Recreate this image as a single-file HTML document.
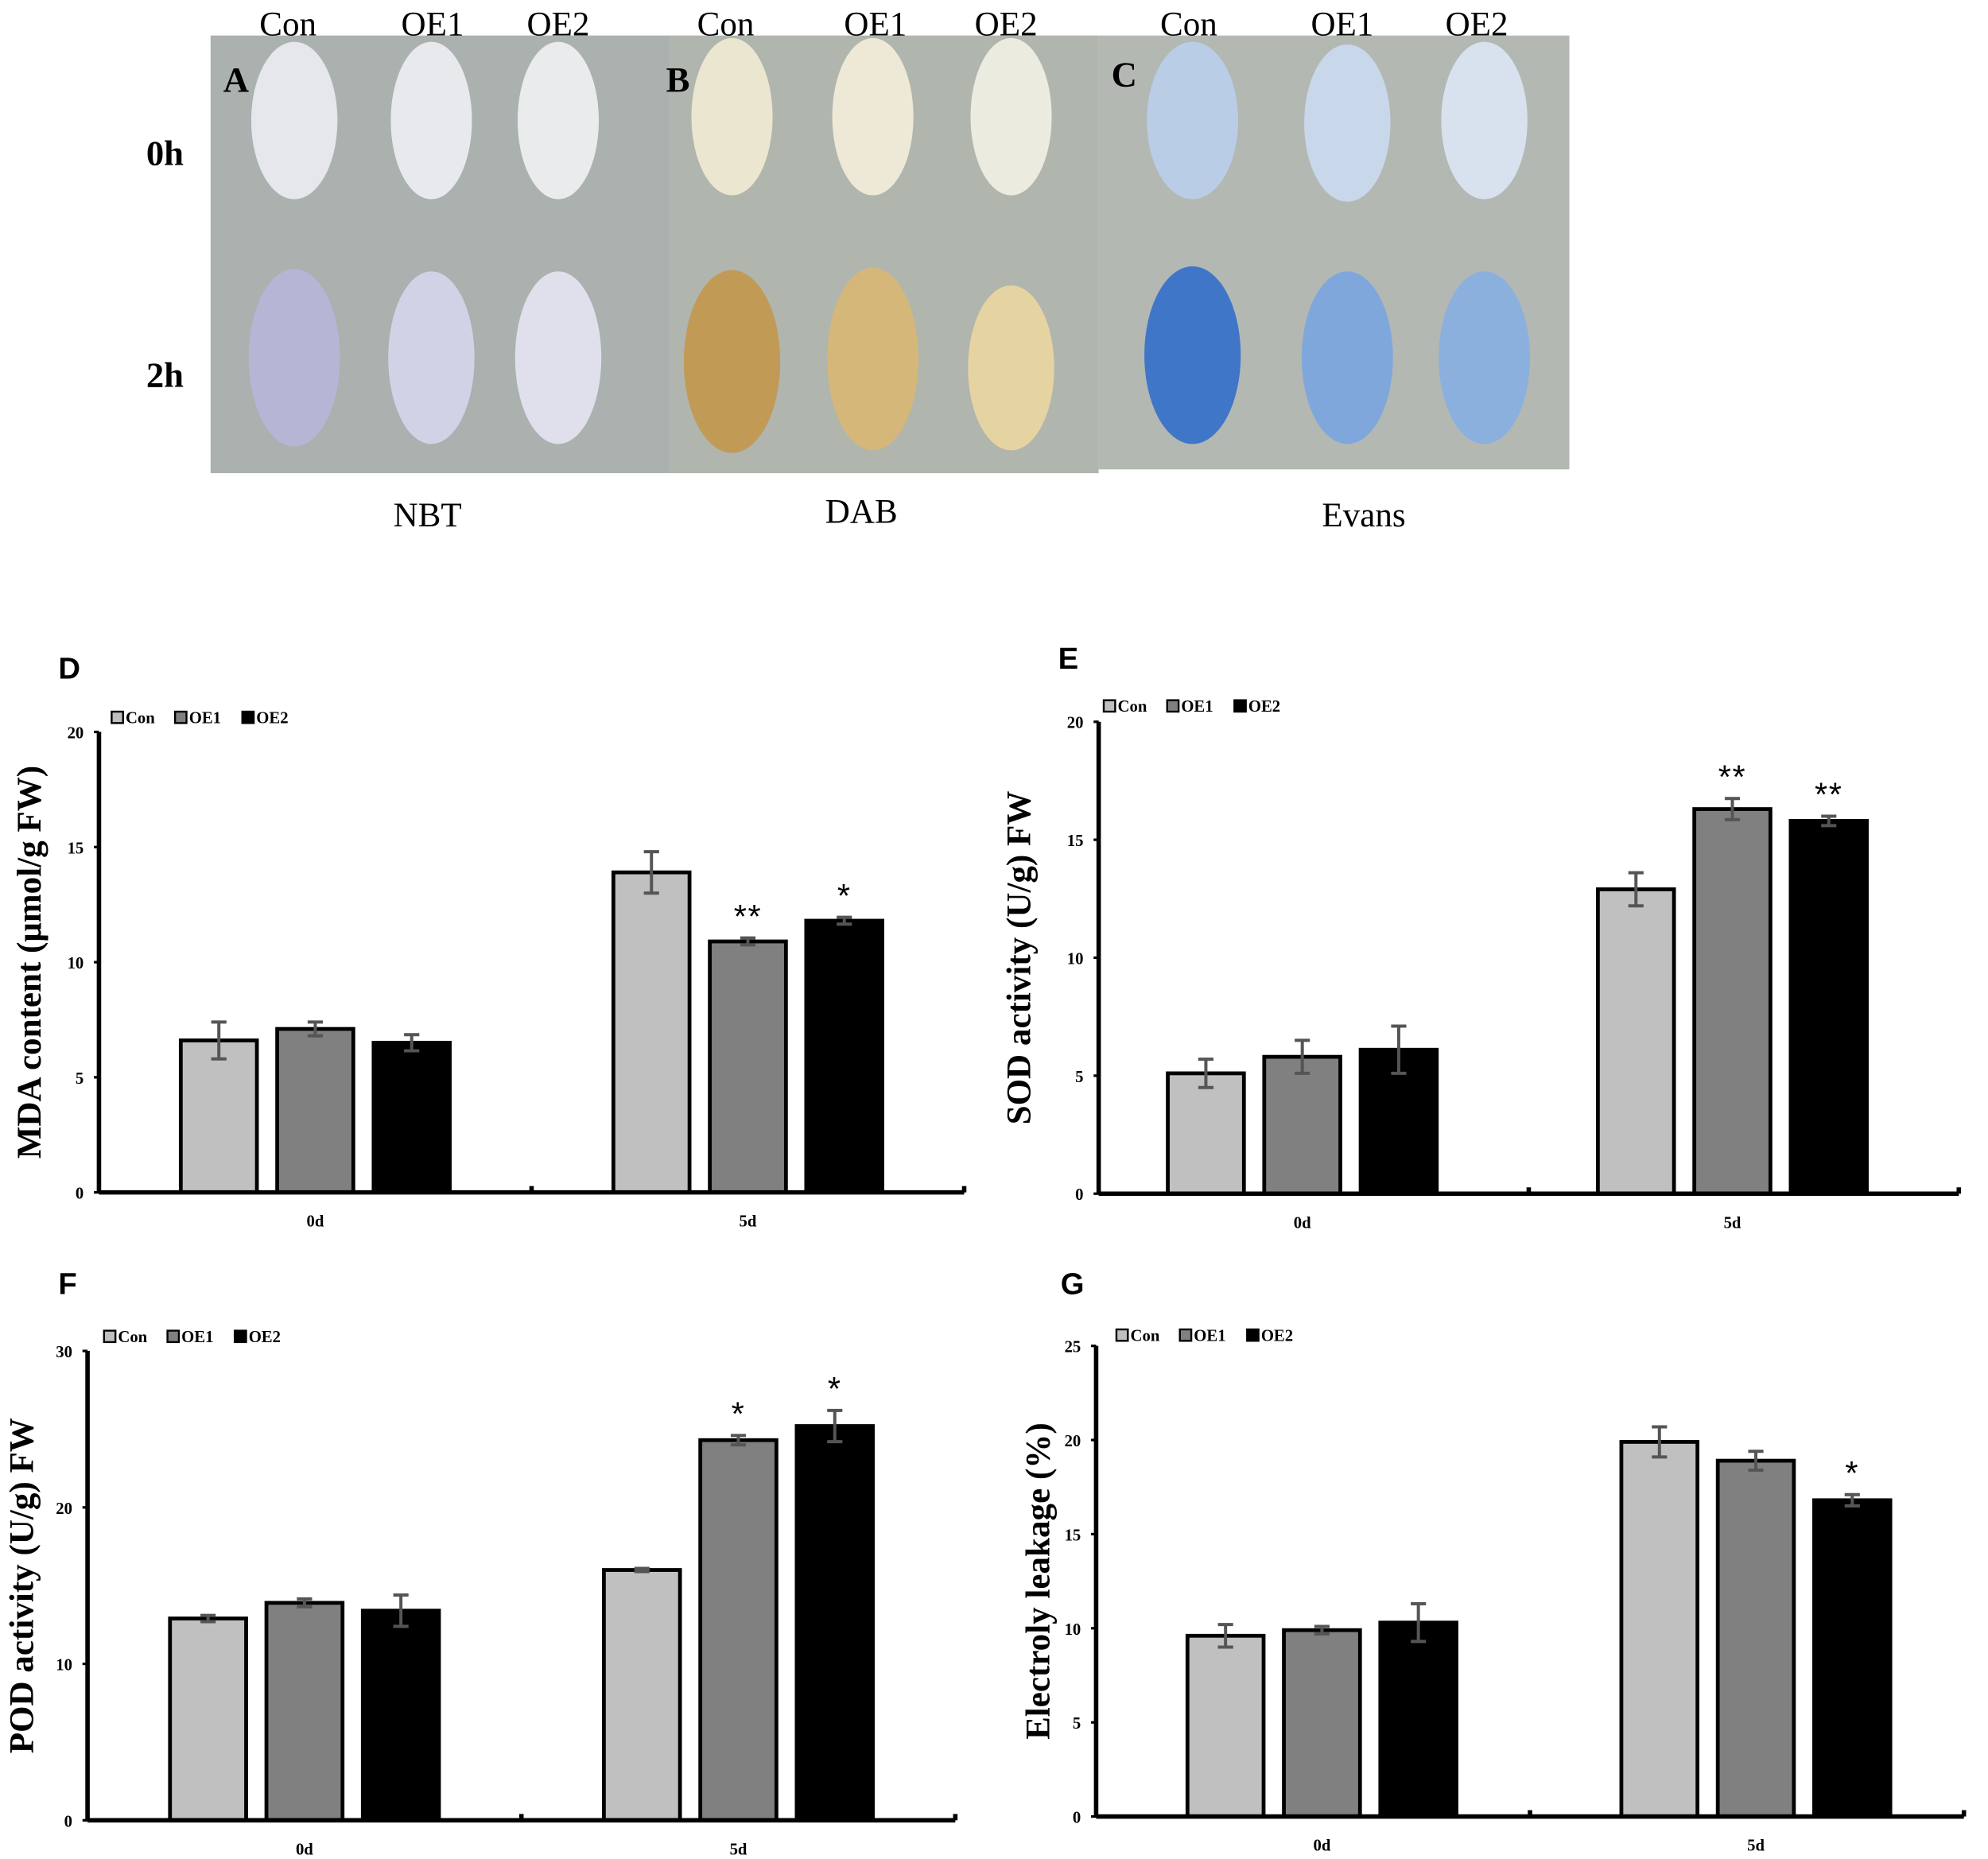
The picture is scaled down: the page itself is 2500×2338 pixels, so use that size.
<!DOCTYPE html>
<html><head><meta charset="utf-8"><style>
html,body{margin:0;padding:0;background:#fff;}
svg{display:block;}
</style></head><body>
<svg id="fig" width="2500" height="2338" viewBox="0 0 1567 1465.5" preserveAspectRatio="none" xmlns="http://www.w3.org/2000/svg" font-family="Liberation Serif, serif">
<g id="photo">
  <rect x="166" y="28" width="362" height="345" fill="#aab1ae"/>
  <rect x="528" y="28" width="338" height="345" fill="#b0b5ae"/>
  <rect x="866" y="28" width="371" height="342" fill="#b3b8b3"/>
  <g>
    <ellipse cx="232" cy="95" rx="34" ry="62" fill="#e6e7ec"/>
    <ellipse cx="340" cy="95" rx="32" ry="62" fill="#e8e9ec"/>
    <ellipse cx="440" cy="95" rx="32" ry="62" fill="#eaebed"/>
    <ellipse cx="232" cy="282" rx="36" ry="70" fill="#b7b5d6"/>
    <ellipse cx="340" cy="282" rx="34" ry="68" fill="#d2d2e6"/>
    <ellipse cx="440" cy="282" rx="34" ry="68" fill="#e0e0ec"/>
    <ellipse cx="577" cy="92" rx="32" ry="62" fill="#ebe6cf"/>
    <ellipse cx="688" cy="92" rx="32" ry="62" fill="#ede9d6"/>
    <ellipse cx="797" cy="92" rx="32" ry="62" fill="#ecebe0"/>
    <ellipse cx="577" cy="285" rx="38" ry="72" fill="#c19a55"/>
    <ellipse cx="688" cy="283" rx="36" ry="72" fill="#d5b77a"/>
    <ellipse cx="797" cy="290" rx="34" ry="65" fill="#e6d3a2"/>
    <ellipse cx="940" cy="95" rx="36" ry="62" fill="#b9cde6"/>
    <ellipse cx="1062" cy="97" rx="34" ry="62" fill="#c9d7ea"/>
    <ellipse cx="1170" cy="95" rx="34" ry="62" fill="#d8e1ee"/>
    <ellipse cx="940" cy="280" rx="38" ry="70" fill="#3f76c8"/>
    <ellipse cx="1062" cy="282" rx="36" ry="68" fill="#80a7dc"/>
    <ellipse cx="1170" cy="282" rx="36" ry="68" fill="#8bb0de"/>
  </g>
  <g font-size="27" fill="#000" text-anchor="middle">
    <text x="227" y="28">Con</text><text x="341" y="28">OE1</text><text x="440" y="28">OE2</text>
    <text x="572" y="28">Con</text><text x="690" y="28">OE1</text><text x="793" y="28">OE2</text>
    <text x="937" y="28">Con</text><text x="1058" y="28">OE1</text><text x="1164" y="28">OE2</text>
  </g>
  <g font-size="28" font-weight="bold">
    <text x="176" y="72">A</text><text x="525" y="72">B</text><text x="876" y="68">C</text>
  </g>
  <g font-size="28" font-weight="bold" text-anchor="middle">
    <text x="130" y="130">0h</text><text x="130" y="305">2h</text>
  </g>
  <g font-size="27" text-anchor="middle">
    <text x="337" y="415">NBT</text><text x="679" y="412">DAB</text><text x="1075" y="415">Evans</text>
  </g>
</g>
<g id="charts"></g>
</svg>
<script>
const categories = ['0d', '5d'];
const seriesNames = ['Con', 'OE1', 'OE2'];

const mdaCon = [6.6, 13.9], mdaOE1 = [7.1, 10.9], mdaOE2 = [6.5, 11.8];
const mdaErrCon = [0.8, 0.9], mdaErrOE1 = [0.3, 0.15], mdaErrOE2 = [0.35, 0.15];
const mdaTicks = [0, 5, 10, 15, 20];
const mdaStars = [['', ''], ['', '**'], ['', '*']];

const sodCon = [5.1, 12.9], sodOE1 = [5.8, 16.3], sodOE2 = [6.1, 15.8];
const sodErrCon = [0.6, 0.7], sodErrOE1 = [0.7, 0.45], sodErrOE2 = [1.0, 0.2];
const sodTicks = [0, 5, 10, 15, 20];
const sodStars = [['', ''], ['', '**'], ['', '**']];

const podCon = [12.9, 16.0], podOE1 = [13.9, 24.3], podOE2 = [13.4, 25.2];
const podErrCon = [0.2, 0.1], podErrOE1 = [0.25, 0.3], podErrOE2 = [1.0, 1.0];
const podTicks = [0, 10, 20, 30];
const podStars = [['', ''], ['', '*'], ['', '*']];

const elCon = [9.6, 19.9], elOE1 = [9.9, 18.9], elOE2 = [10.3, 16.8];
const elErrCon = [0.6, 0.8], elErrOE1 = [0.2, 0.5], elErrOE2 = [1.0, 0.3];
const elTicks = [0, 5, 10, 15, 20, 25];
const elStars = [['', ''], ['', ''], ['', '*']];

const NS = 'http://www.w3.org/2000/svg';
const fills = ['#c0c0c0', '#808080', '#000000'];
const root = document.getElementById('charts');
function mk(tag, attrs, parent, text) {
  const e = document.createElementNS(NS, tag);
  for (const k in attrs) e.setAttribute(k, attrs[k]);
  if (text !== undefined) e.textContent = text;
  parent.appendChild(e);
  return e;
}
function drawChart(cfg, vals, errs, ticks, stars) {
  const g = mk('g', {}, root);
  
  
  const max = ticks[ticks.length - 1];
  const y = v => cfg.y0 - (v / max) * (cfg.y0 - cfg.yTop);
  const catW = (cfg.x1 - cfg.x0) / categories.length;
  const xc = i => cfg.x0 + catW * (i + 0.5) + (cfg.shift || 0);
  const lbl = mk('text', {x: cfg.lx, y: cfg.ly, 'font-family': 'Liberation Sans, sans-serif', 'font-size': 24, 'font-weight': 'bold'}, g, cfg.letter);
  
  
  const yt = mk('text', {x: 0, y: 0, transform: `translate(${cfg.tx},${(cfg.y0 + cfg.yTop) / 2}) rotate(-90)`, 'text-anchor': 'middle', 'font-size': 27, 'font-weight': 'bold'}, g, cfg.title);
  
  
  ticks.forEach(t => {
    const tl = mk('text', {x: cfg.x0 - 12, y: y(t) + 5, 'text-anchor': 'end', 'font-size': 13, 'font-weight': 'bold'}, g, String(t));
    
    
    mk('line', {x1: cfg.x0 - 4, x2: cfg.x0, y1: y(t), y2: y(t), stroke: '#000', 'stroke-width': 2}, g);
  });
  const bw = 60, gap = 76;
  categories.forEach((c, i) => {
    seriesNames.forEach((s, j) => {
      const cx = xc(i) + (j - 1) * gap;
      const v = vals[j][i], e = errs[j][i];
      const r = mk('rect', {x: cx - bw / 2, y: y(v), width: bw, height: cfg.y0 - y(v), fill: fills[j], stroke: '#000', 'stroke-width': 3}, g);
      
      
      const eg = mk('g', {stroke: '#555', 'stroke-width': 2.5}, g);
      
      
      mk('line', {x1: cx, x2: cx, y1: y(v + e), y2: y(v - e)}, eg);
      mk('line', {x1: cx - 6, x2: cx + 6, y1: y(v + e), y2: y(v + e)}, eg);
      mk('line', {x1: cx - 6, x2: cx + 6, y1: y(v - e), y2: y(v - e)}, eg);
      const st = stars[j][i];
      if (st) {
        const sEl = mk('text', {x: cx, y: y(v + e) - 8, 'text-anchor': 'middle', 'font-family': 'Liberation Sans, sans-serif', 'font-size': 26, 'letter-spacing': 1}, g, st);
        
        
      }
    });
    const xl = mk('text', {x: xc(i), y: cfg.y0 + 27, 'text-anchor': 'middle', 'font-size': 13, 'font-weight': 'bold'}, g, c);
    
    
  });
  const ax = mk('g', {stroke: '#000', 'stroke-width': 3.5}, g);
  
  
  mk('line', {x1: cfg.x0, x2: cfg.x0, y1: cfg.yTop, y2: cfg.y0}, ax);
  mk('line', {x1: cfg.x0, x2: cfg.x1, y1: cfg.y0, y2: cfg.y0}, ax);
  for (let k = 1; k <= categories.length; k++) mk('line', {x1: cfg.x0 + catW * k, x2: cfg.x0 + catW * k, y1: cfg.y0, y2: cfg.y0 - 5}, ax);
  const lg = mk('g', {}, g);
  
  
  const offs = [0, 50, 103];
  seriesNames.forEach((s, j) => {
    const lx = cfg.legX + offs[j];
    const sq = mk('rect', {x: lx, y: cfg.legY - 9, width: 9, height: 9, fill: fills[j], stroke: '#000', 'stroke-width': 1.5}, lg);
    
    
    const t = mk('text', {x: lx + 11, y: cfg.legY, 'font-size': 13, 'font-weight': 'bold'}, lg, s);
    
    
  });
}
drawChart({name: 'chart-d-mda', letter: 'D', lx: 46, ly: 535, title: 'MDA content (μmol/g FW)', tx: 32, x0: 78, x1: 760, y0: 940, yTop: 577, legX: 88, legY: 570},
  [mdaCon, mdaOE1, mdaOE2], [mdaErrCon, mdaErrOE1, mdaErrOE2], mdaTicks, mdaStars);
drawChart({name: 'chart-e-sod', letter: 'E', lx: 834, ly: 527, title: 'SOD activity (U/g) FW', tx: 812, x0: 866, x1: 1544, y0: 941, yTop: 569, legX: 870, legY: 561, shift: -9},
  [sodCon, sodOE1, sodOE2], [sodErrCon, sodErrOE1, sodErrOE2], sodTicks, sodStars);
drawChart({name: 'chart-f-pod', letter: 'F', lx: 46, ly: 1020, title: 'POD activity (U/g) FW', tx: 26, x0: 69, x1: 753, y0: 1435, yTop: 1065, legX: 82, legY: 1058},
  [podCon, podOE1, podOE2], [podErrCon, podErrOE1, podErrOE2], podTicks, podStars);
drawChart({name: 'chart-g-electrolyte-leakage', letter: 'G', lx: 836, ly: 1020, title: 'Electroly leakage (%)', tx: 827, x0: 864, x1: 1548, y0: 1432, yTop: 1061, legX: 880, legY: 1057, shift: 7},
  [elCon, elOE1, elOE2], [elErrCon, elErrOE1, elErrOE2], elTicks, elStars);
</script>
</body></html>
